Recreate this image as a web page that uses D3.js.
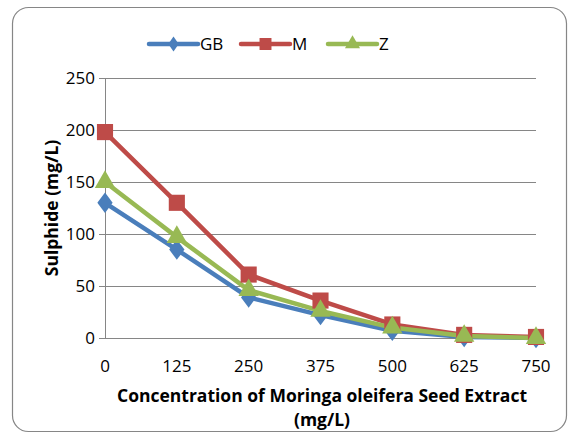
<!DOCTYPE html>
<html>
<head>
<meta charset="utf-8">
<script src="https://cdn.jsdelivr.net/npm/d3@7"></script>
<style>
  body { margin: 0; background: #fff; }
  text { font-family: "Open Sans", "Liberation Sans", sans-serif; }
</style>
</head>
<body>
<div id="chart"></div>
<script>
// chart data
const concentrations = [0, 125, 250, 375, 500, 625, 750];
const gbValues = [130, 85, 39, 22, 7, 1, 0];
const mValues = [198, 130, 61, 36, 13, 3, 1];
const zValues = [150, 97, 46, 26, 10, 2, 0];
const yTicks = [0, 50, 100, 150, 200, 250];

const series = [
    {name: "GB", values: gbValues, color: "#4A7EBB", symbol: d3.symbolDiamond, size: 120},
    {name: "M", values: mValues, color: "#BE4B48", symbol: d3.symbolSquare, size: 260},
    {name: "Z", values: zValues, color: "#98B954", symbol: d3.symbolTriangle, size: 180}
];

let width = 571, height = 434;
let margin = {top: 78, right: 35, bottom: 96, left: 105};

let svg = d3.select("#chart")
    .append("svg")
        .attr("width", width)
        .attr("height", height);

// outer frame
svg.append("rect")
    .attr("x", 12.5).attr("y", 7.5)
    .attr("width", 554).attr("height", 424)
    .attr("rx", 16)
    .attr("fill", "#fff")
    .attr("stroke", "#868686")
    .attr("stroke-width", 1.2);

let x = d3.scalePoint()
    .domain(concentrations)
    .range([margin.left, width - margin.right]);

let y = d3.scaleLinear()
    .domain([0, 250])
    .range([height - margin.bottom, margin.top]);

// gridlines
svg.append("g")
    .selectAll("line")
    .data(yTicks)
    .join("line")
        .attr("x1", margin.left - 6)
        .attr("x2", width - margin.right)
        .attr("y1", d => Math.round(y(d)) + 0.5)
        .attr("y2", d => Math.round(y(d)) + 0.5)
        .attr("stroke", "#868686")
        .attr("stroke-width", 1);

// y axis line
svg.append("line")
    .attr("x1", margin.left + 0.5).attr("x2", margin.left + 0.5)
    .attr("y1", y(250)).attr("y2", y(0))
    .attr("stroke", "#868686");

// y tick labels
svg.append("g")
    .selectAll("text")
    .data(yTicks)
    .join("text")
        .attr("x", margin.left - 10)
        .attr("y", d => y(d))
        .attr("dy", "0.35em")
        .attr("text-anchor", "end")
        .attr("font-size", 17)
        .attr("fill", "#000")
        .text(d => d);

// x tick labels
svg.append("g")
    .selectAll("text")
    .data(concentrations)
    .join("text")
        .attr("x", d => x(d))
        .attr("y", y(0) + 34)
        .attr("text-anchor", "middle")
        .attr("font-size", 17)
        .attr("fill", "#000")
        .text(d => d);

// axis titles
svg.append("text")
    .attr("x", 322).attr("y", 402)
    .attr("text-anchor", "middle")
    .attr("font-size", 17.5)
    .attr("font-weight", "bold")
    .attr("textLength", 410)
    .text("Concentration of Moringa oleifera Seed Extract");
svg.append("text")
    .attr("x", 322).attr("y", 426)
    .attr("text-anchor", "middle")
    .attr("font-size", 17.5)
    .attr("font-weight", "bold")
    .text("(mg/L)");
svg.append("text")
    .attr("transform", "translate(52," + y(125) + ") rotate(-90)")
    .attr("text-anchor", "middle")
    .attr("dy", "0.35em")
    .attr("font-size", 17.5)
    .attr("font-weight", "bold")
    .text("Sulphide (mg/L)");

// lines and markers
let line = d3.line()
    .x((d, i) => x(concentrations[i]))
    .y(d => y(d));

series.forEach(s => {
    svg.append("path")
        .datum(s.values)
        .attr("d", line)
        .attr("fill", "none")
        .attr("stroke", s.color)
        .attr("stroke-width", 4.5)
        .attr("stroke-linejoin", "round");
});
series.forEach(s => {
    svg.append("g")
        .selectAll("path")
        .data(s.values)
        .join("path")
            .attr("transform", (d, i) => "translate(" + x(concentrations[i]) + "," + y(d) + ")" + (s.name === "GB" ? " scale(1.3,1)" : ""))
            .attr("d", d3.symbol().type(s.symbol).size(s.size))
            .attr("fill", s.color);
});

// legend
let legendX = [149, 241, 328];
let legend = svg.append("g");
series.forEach((s, i) => {
    let g = legend.append("g").attr("transform", "translate(" + legendX[i] + ",44)");
    g.append("line")
        .attr("x1", 0).attr("x2", 49)
        .attr("stroke", s.color)
        .attr("stroke-width", 4.5)
        .attr("stroke-linecap", "round");
    g.append("path")
        .attr("transform", "translate(24.5,0)" + (s.name === "GB" ? " scale(1.2,1)" : ""))
        .attr("d", d3.symbol().type(s.symbol).size(s.size * 0.55))
        .attr("fill", s.color);
    g.append("text")
        .attr("x", 51).attr("dy", "0.36em")
        .attr("font-size", 17)
        .text(s.name);
});
</script>
</body>
</html>
